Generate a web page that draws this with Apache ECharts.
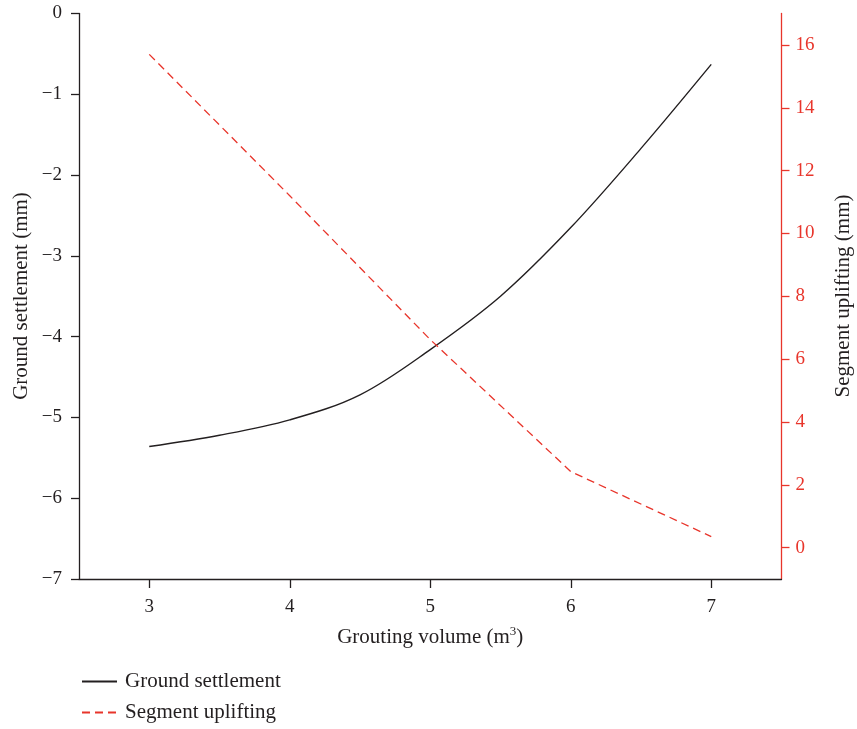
<!DOCTYPE html>
<html>
<head>
<meta charset="utf-8">
<script src="https://cdn.jsdelivr.net/npm/echarts@6/dist/echarts.min.js"></script>
<style>
  html, body { margin: 0; padding: 0; background: #fff; }
  #chart { width: 857px; height: 729px; }
</style>
</head>
<body>
<div id="chart"></div>
<script>
// Grouting volume (m³) sampled for the settlement curve
const settlementVolumes = [3, 3.5, 4, 4.5, 5, 5.5, 6, 6.5, 7];
const groundSettlement = [-5.36, -5.22, -5.03, -4.72, -4.16, -3.50, -2.65, -1.67, -0.63];

// Grouting volume (m³) sampled for the uplift curve
const upliftVolumes = [3, 4, 5, 6, 7];
const segmentUplifting = [15.7, 11.2, 6.62, 2.42, 0.35];

// Tick positions
const xTicks = [3, 4, 5, 6, 7];
const upliftTicks = [0, 2, 4, 6, 8, 10, 12, 14, 16];

const RED = '#e8352b';
const INK = '#231f20';
const SERIF = '"Liberation Serif", "DejaVu Serif", serif';

const pairs = (xs, ys) => xs.map((x, i) => [x, ys[i]]);
const minus = v => String(v).replace('-', '\u2212');

const chart = echarts.init(document.getElementById('chart'));
chart.setOption({
  animation: false,
  backgroundColor: '#fff',
  textStyle: { fontFamily: SERIF },
  grid: { left: 79, right: 75.5, top: 13.5, bottom: 150 },
  legend: {
    orient: 'vertical',
    left: 81,
    top: 671,
    height: 70,
    padding: 0,
    itemWidth: 35,
    itemHeight: 18,
    itemGap: 10,
    itemStyle: { opacity: 0 },
    textStyle: { fontFamily: SERIF, fontSize: 21, color: INK, padding: [0, 0, 0, 3] },
    data: ['Ground settlement', 'Segment uplifting']
  },
  xAxis: {
    type: 'value',
    min: 2.5,
    max: 7.5,
    name: '{n|Grouting volume (m}{s|3}{n|)}',
    nameLocation: 'middle',
    nameGap: 46,
    nameTextStyle: {
      rich: {
        n: { fontFamily: SERIF, fontSize: 21, color: INK },
        s: { fontFamily: SERIF, fontSize: 13, color: INK, verticalAlign: 'top', padding: [0, 0, 12, 0] }
      }
    },
    splitLine: { show: false },
    axisLine: { show: true, onZero: false, lineStyle: { color: INK, width: 1.3 } },
    axisTick: { show: true, customValues: xTicks, length: 9, lineStyle: { color: INK, width: 1.3 } },
    axisLabel: { customValues: xTicks, margin: 19, fontSize: 19, color: INK, fontFamily: SERIF }
  },
  yAxis: [
    {
      type: 'value',
      min: -7,
      max: 0,
      interval: 1,
      position: 'left',
      splitLine: { show: false },
      axisLine: { show: true, onZero: false, lineStyle: { color: INK, width: 1.3 } },
      axisTick: { show: true, length: 8, lineStyle: { color: INK, width: 1.3 } },
      axisLabel: { margin: 17, fontSize: 19, color: INK, fontFamily: SERIF, formatter: minus }
    },
    {
      type: 'value',
      min: -1,
      max: 17,
      position: 'right',
      splitLine: { show: false },
      axisLine: { show: true, onZero: false, lineStyle: { color: RED, width: 1.3 } },
      axisTick: { show: true, customValues: upliftTicks, length: 8, lineStyle: { color: RED, width: 1.3 } },
      axisLabel: { customValues: upliftTicks, margin: 14, fontSize: 19, color: RED, fontFamily: SERIF }
    }
  ],
  graphic: [
    {
      type: 'text',
      x: 21, y: 296,
      rotation: Math.PI / 2,
      style: {
        text: 'Ground settlement (mm)',
        font: '21px ' + SERIF,
        fill: INK,
        align: 'center',
        verticalAlign: 'middle'
      }
    },
    {
      type: 'text',
      x: 843, y: 296,
      rotation: Math.PI / 2,
      style: {
        text: 'Segment uplifting (mm)',
        font: '21px ' + SERIF,
        fill: INK,
        align: 'center',
        verticalAlign: 'middle'
      }
    }
  ],
  series: [
    {
      name: 'Ground settlement',
      type: 'line',
      yAxisIndex: 0,
      data: pairs(settlementVolumes, groundSettlement),
      smooth: 0.35,
      symbol: 'none',
      color: INK,
      lineStyle: { color: INK, width: 1.4 }
    },
    {
      name: 'Segment uplifting',
      type: 'line',
      yAxisIndex: 1,
      data: pairs(upliftVolumes, segmentUplifting),
      symbol: 'none',
      color: RED,
      lineStyle: { color: RED, width: 1.3, type: [8, 5] }
    }
  ]
});
</script>
</body>
</html>
